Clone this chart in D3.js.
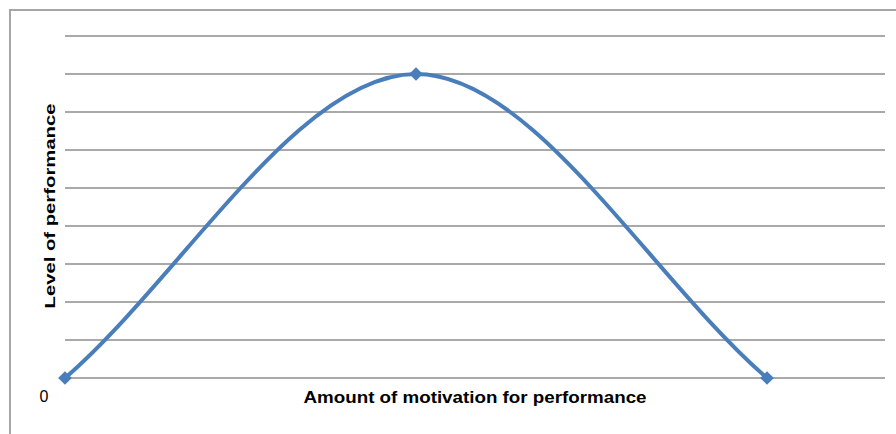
<!DOCTYPE html>
<html><head><meta charset="utf-8">
<script src="https://cdn.jsdelivr.net/npm/d3@7"></script>
<style>html,body{margin:0;padding:0;background:#fff;}svg{display:block;}</style>
</head><body>
<svg id="c" width="896" height="434"></svg>
<script>
const categories = [0, 1, 2];
const performance = [0, 8, 0];
const gridValues = [0, 1, 2, 3, 4, 5, 6, 7, 8, 9];
const xTitle = "Amount of motivation for performance";
const yTitle = "Level of performance";
const originLabel = "0";

const svg = d3.select("#c");
// outer chart border (cropped at right/bottom)
svg.append("rect").attr("x", 10).attr("y", 10).attr("width", 900).attr("height", 440)
  .attr("fill", "#fff").attr("stroke", "#a6a6a6").attr("stroke-width", 2);

const x = d3.scaleLinear().domain([0, 2]).range([65, 767]);
const y = d3.scaleLinear().domain([0, 9]).range([378, 36]);
const gridRight = 885;

svg.append("g").selectAll("line").data(gridValues).join("line")
  .attr("x1", x(0)).attr("x2", gridRight)
  .attr("y1", d => y(d)).attr("y2", d => y(d))
  .attr("stroke", "#8c8c8c").attr("stroke-width", 1.5);

const pts = categories.map((c, i) => [x(c), y(performance[i])]);
// Excel-style smoothing: reflected guide points at both ends, open cardinal spline
const n = pts.length;
const guideStart = [2 * pts[0][0] - pts[1][0], 2 * pts[0][1] - pts[1][1]];
const guideEnd = [2 * pts[n - 1][0] - pts[n - 2][0], 2 * pts[n - 1][1] - pts[n - 2][1]];
const splinePts = [guideStart, ...pts, guideEnd];
svg.append("path").attr("d", d3.line().curve(d3.curveCardinalOpen.tension(0))(splinePts))
  .attr("fill", "none").attr("stroke", "#4a7ebb").attr("stroke-width", 4);

svg.append("g").selectAll("path").data(pts).join("path")
  .attr("transform", d => `translate(${d[0]},${d[1]})`)
  .attr("d", d3.symbol(d3.symbolDiamond2, 120)())
  .attr("fill", "#4a7ebb");

svg.append("text").attr("x", 475).attr("y", 403).attr("text-anchor", "middle")
  .attr("font-family", "Liberation Sans, Arial, sans-serif").attr("font-size", 16)
  .attr("font-weight", "bold").attr("textLength", 343).attr("lengthAdjust", "spacingAndGlyphs")
  .attr("fill", "#000").text(xTitle);

svg.append("text").attr("transform", "translate(55,206) rotate(-90)").attr("text-anchor", "middle")
  .attr("font-family", "Liberation Sans, Arial, sans-serif").attr("font-size", 15)
  .attr("font-weight", "bold").attr("textLength", 205).attr("lengthAdjust", "spacingAndGlyphs")
  .attr("fill", "#000").text(yTitle);

svg.append("text").attr("x", 44).attr("y", 402).attr("text-anchor", "middle")
  .attr("font-family", "Liberation Sans, Arial, sans-serif").attr("font-size", 16)
  .attr("fill", "#000").text(originLabel);
</script>
</body></html>
